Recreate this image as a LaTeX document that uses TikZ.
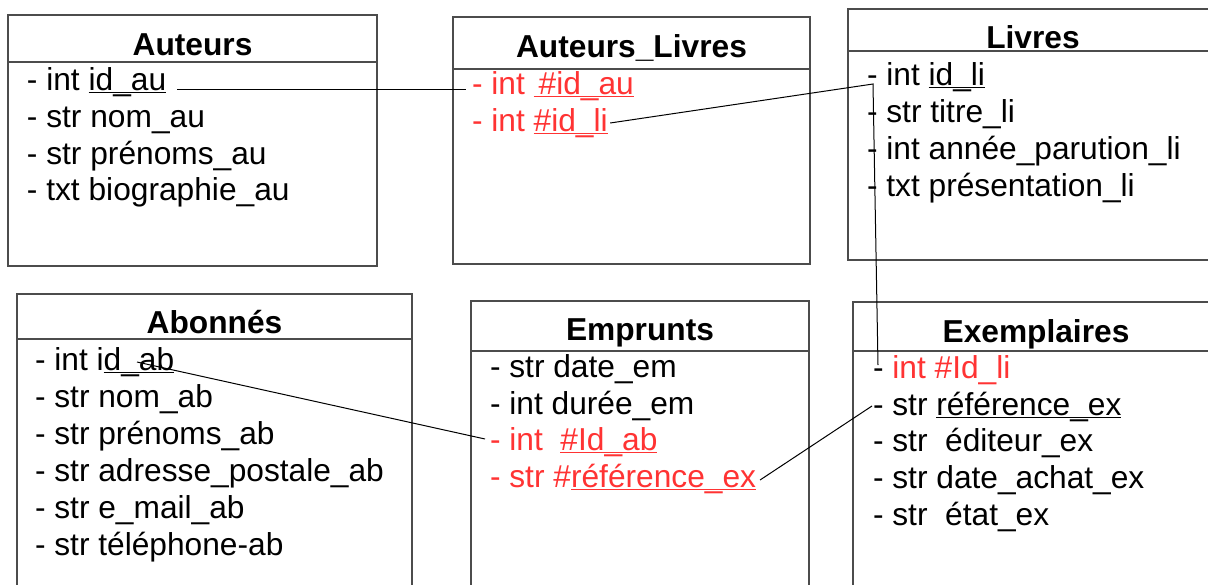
\documentclass[tikz,border=0pt]{standalone}
\usepackage{fontspec}
\setmainfont{Liberation Sans}
\definecolor{fk}{RGB}{255,51,51}
\newcommand\ulx[1]{\setbox0\hbox{#1}\rlap{\rule[-3.2pt]{\wd0}{1.4pt}}\box0}
\begin{document}
\begin{tikzpicture}[x=1pt,y=-1pt,
  every node/.style={inner sep=0pt,outer sep=0pt},
  row/.style={anchor=base west,font=\fontsize{31.7}{37}\selectfont},
  ttl/.style={anchor=base,font=\fontsize{31.7}{37}\selectfont\bfseries},
  tbl/.style={draw=black!70,line width=1.2pt},
  link/.style={draw=black,line width=1pt}]
\useasboundingbox (0,0) rectangle (1208,584);
\clip (0,0) rectangle (1208,584);
\fill[white] (0,0) rectangle (1208,584);
% ---- tables
\draw[tbl] (8,15) rectangle (377,266);   \draw[tbl] (8,62) -- (377,62);
\draw[tbl] (453,17) rectangle (810,264); \draw[tbl] (453,69) -- (810,69);
\draw[tbl] (848,9) rectangle (1220,260); \draw[tbl] (848,51) -- (1220,51);
\draw[tbl] (17,294) rectangle (412,600); \draw[tbl] (17,339) -- (412,339);
\draw[tbl] (471,301) rectangle (809,600); \draw[tbl] (471,351) -- (809,351);
\draw[tbl] (853,302) rectangle (1220,600); \draw[tbl] (853,351) -- (1220,351);
% ---- Auteurs
\node[ttl] (tAu) at (192.5,55) {Auteurs};
\node[row] (au1) at (27,90) {- int \ulx{id\_au}};
\node[row] (au2) at (27,127) {- str nom\_au};
\node[row] (au3) at (27,164) {- str prénoms\_au};
\node[row] (au4) at (27,200) {- txt biographie\_au};
% ---- Auteurs_Livres
\node[ttl] (tAL) at (631.5,57) {Auteurs\_Livres};
\node[row,text=fk] (al1) at (472,94) {- int \ulx{\hspace{5pt}\#id\_au}};
\node[row,text=fk] (al2) at (472,131) {- int \ulx{\#id\_li}};
% ---- Livres
\node[ttl] (tLi) at (1033,48) {Livres};
\node[row] (li1) at (867,85) {- int \ulx{id\_li}};
\node[row] (li2) at (867,122) {- str titre\_li};
\node[row] (li3) at (867,159) {- int année\_parution\_li};
\node[row] (li4) at (867,196) {- txt présentation\_li};
% ---- Abonnés
\node[ttl] (tAb) at (214.5,333) {Abonnés};
\node[row] (ab1) at (35,370) {- int i\ulx{d\_ab}};
\node[row] (ab2) at (35,407) {- str nom\_ab};
\node[row] (ab3) at (35,444) {- str prénoms\_ab};
\node[row] (ab4) at (35,481) {- str adresse\_postale\_ab};
\node[row] (ab5) at (35,518) {- str e\_mail\_ab};
\node[row] (ab6) at (35,555) {- str téléphone-ab};
% ---- Emprunts
\node[ttl] (tEm) at (640,340) {Emprunts};
\node[row] (em1) at (490,377) {- str date\_em};
\node[row] (em2) at (490,414) {- int durée\_em};
\node[row,text=fk] (em3) at (490,450) {- int\ \ \ulx{\#Id\_ab}};
\node[row,text=fk] (em4) at (490,487) {- str \#\ulx{référence\_ex}};
% ---- Exemplaires
\node[ttl] (tEx) at (1036,342) {Exemplaires};
\node[row] (ex1) at (873,378) {- \textcolor{fk}{int \#Id\_li}};
\node[row] (ex2) at (873,415) {- str \ulx{référence\_ex}};
\node[row] (ex3) at (873,451) {- str\ \ éditeur\_ex};
\node[row] (ex4) at (873,488) {- str date\_achat\_ex};
\node[row] (ex5) at (873,525) {- str\ \ état\_ex};
% ---- links
\draw[link] ([xshift=11pt,yshift=1pt]au1.base east) -- ([xshift=-6pt,yshift=5pt]al1.base west);
\draw[link] ([xshift=2.5pt,yshift=8pt]al2.base east) -- ([xshift=6pt,yshift=1pt]li1.base west)
  -- ([xshift=5pt,yshift=13pt]ex1.base west);
\draw[link] ([xshift=102pt,yshift=8pt]ab1.base west) -- ([xshift=-5pt,yshift=11pt]em3.base west);
\draw[link] ([xshift=4pt,yshift=7pt]em4.base east) -- ([xshift=-1pt,yshift=9pt]ex2.base west);
\end{tikzpicture}
\end{document}
